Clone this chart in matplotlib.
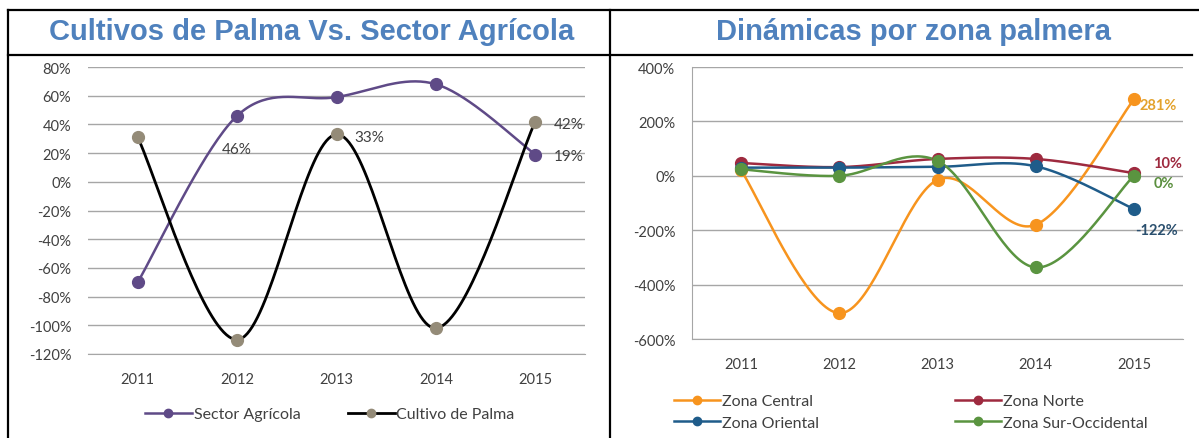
import numpy as np
import matplotlib
matplotlib.use("Agg")
import matplotlib.pyplot as plt
from matplotlib.lines import Line2D
from matplotlib.ticker import FuncFormatter, MultipleLocator

# ---------------- data ----------------
years = ["2011", "2012", "2013", "2014", "2015"]

sector_agricola = [-70, 46, 59, 68, 19]
cultivo_palma = [31, -110, 33, -102, 42]

zona_central = [20, -505, -15, -180, 281]
zona_norte = [47, 32, 62, 62, 10]
zona_oriental = [30, 30, 33, 35, -122]
zona_sur_occ = [24, 0, 55, -337, 0]

left_title = "Cultivos de Palma Vs. Sector Agrícola"
right_title = "Dinámicas por zona palmera"

# ---------------- style ----------------
FONT = "Lato"
TXT = "#404040"
GRID = "#A6A6A6"
TITLE_C = "#4F81BD"
C_SECTOR = "#5F4A87"
C_PALMA_LINE = "#000000"
C_PALMA_MK = "#948B78"
C_CENTRAL = "#F7941E"
C_NORTE = "#9E2A3F"
C_ORIENTAL = "#1F5C8A"
C_SUR = "#5A9440"

W, H = 1199, 439
fig = plt.figure(figsize=(W / 100, H / 100), dpi=100)


def px_axes(left, top, right, bottom):
    return fig.add_axes([left / W, 1 - bottom / H, (right - left) / W, (bottom - top) / H])


def smooth(xs, ys, n=40):
    xs = np.asarray(xs, float)
    ys = np.asarray(ys, float)
    P = np.column_stack([xs, ys])
    out = [P[0]]
    for i in range(len(P) - 1):
        p0 = P[i - 1] if i > 0 else P[i]
        p1 = P[i]
        p2 = P[i + 1]
        p3 = P[i + 2] if i + 2 < len(P) else P[i + 1]
        c1 = p1 + (p2 - p0) / 6.0
        c2 = p2 - (p3 - p1) / 6.0
        t = np.linspace(0, 1, n)[1:, None]
        seg = ((1 - t) ** 3) * p1 + 3 * ((1 - t) ** 2) * t * c1 + 3 * (1 - t) * t ** 2 * c2 + t ** 3 * p2
        out.extend(seg)
    out = np.array(out)
    return out[:, 0], out[:, 1]


def style_axes(ax, lo, hi, step, left_spine):
    ax.set_ylim(lo, hi)
    ax.set_xlim(-0.5, len(years) - 0.5)
    ax.yaxis.set_major_locator(MultipleLocator(step))
    ax.yaxis.set_major_formatter(FuncFormatter(lambda v, p: f"{int(round(v))}%"))
    ax.set_xticks(range(len(years)))
    ax.set_xticklabels(years)
    ax.grid(axis="y", color=GRID, linewidth=1.0)
    ax.set_axisbelow(True)
    for s in ["top", "right"]:
        ax.spines[s].set_visible(False)
    ax.spines["left"].set_visible(left_spine)
    ax.spines["left"].set_color(GRID)
    ax.spines["bottom"].set_color(GRID)
    ax.spines["bottom"].set_zorder(0.5)
    ax.tick_params(axis="both", length=0, labelsize=10.5, colors=TXT)
    ax.tick_params(axis="y", pad=12)
    ax.tick_params(axis="x", pad=13)
    for lab in ax.get_xticklabels() + ax.get_yticklabels():
        lab.set_fontfamily(FONT)


x = np.arange(len(years))

# ---------------- left chart ----------------
axL = px_axes(88, 68, 585, 355)
style_axes(axL, -120, 80, 20, False)

for vals, lc, mc, lw in [(sector_agricola, C_SECTOR, C_SECTOR, 1.8),
                         (cultivo_palma, C_PALMA_LINE, C_PALMA_MK, 2.0)]:
    sx, sy = smooth(x, vals)
    axL.plot(sx, sy, color=lc, lw=lw, zorder=3, solid_capstyle="round")
    axL.plot(x, vals, ls="none", marker="o", ms=8.5, color=mc, zorder=4)

lab_kw = dict(textcoords="offset points", fontsize=11, color=TXT, family=FONT, va="center")
axL.annotate(f"{sector_agricola[1]}%", (1, sector_agricola[1]), xytext=(0, -24), ha="center", **lab_kw)
axL.annotate(f"{cultivo_palma[2]}%", (2, cultivo_palma[2]), xytext=(13, -2), ha="left", **lab_kw)
axL.annotate(f"{cultivo_palma[4]}%", (4, cultivo_palma[4]), xytext=(13, -2), ha="left", **lab_kw)
axL.annotate(f"{sector_agricola[4]}%", (4, sector_agricola[4]), xytext=(13, -1), ha="left", **lab_kw)

hL = [Line2D([], [], color=C_SECTOR, lw=1.8, marker="o", ms=6, label="Sector Agrícola"),
      Line2D([], [], color=C_PALMA_LINE, lw=2.0, marker="o", ms=6, mfc=C_PALMA_MK,
             mec=C_PALMA_MK, label="Cultivo de Palma")]
legL = fig.legend(handles=hL, loc="center", bbox_to_anchor=(330 / W, 1 - 415 / H), ncol=2,
                  frameon=False, handlelength=2.9, handletextpad=0.12, columnspacing=3.0,
                  prop={"family": FONT, "size": 11.5})
for t in legL.get_texts():
    t.set_color(TXT)

# ---------------- right chart ----------------
axR = px_axes(692, 68, 1183, 340)
style_axes(axR, -600, 400, 200, True)

zones = [(zona_central, C_CENTRAL, "Zona Central"),
         (zona_norte, C_NORTE, "Zona Norte"),
         (zona_oriental, C_ORIENTAL, "Zona Oriental"),
         (zona_sur_occ, C_SUR, "Zona Sur-Occidental")]
for i, (vals, c, name) in enumerate(zones):
    sx, sy = smooth(x, vals)
    axR.plot(sx, sy, color=c, lw=1.8, zorder=3 + i * 0.1)
    axR.plot(x, vals, ls="none", marker="o", ms=8.5, color=c, zorder=4 + i * 0.1)

bkw = dict(textcoords="offset points", fontsize=10.5, family=FONT, fontweight="bold", va="center")
axR.annotate(f"{zona_central[4]}%", (4, zona_central[4]), xytext=(4, -4), ha="left",
             color="#E3A22C", **bkw)
axR.annotate(f"{zona_norte[4]}%", (4, zona_norte[4]), xytext=(14, 7), ha="left",
             color="#9E2A3F", **bkw)
axR.annotate(f"{zona_sur_occ[4]}%", (4, zona_sur_occ[4]), xytext=(14, -5), ha="left",
             color="#5A8F3E", **bkw)
axR.annotate(f"{zona_oriental[4]}%", (4, zona_oriental[4]), xytext=(16, -15), ha="center",
             color="#2A4F6E", **bkw)

# legend fills column-wise: order so rows read Central/Norte, Oriental/Sur-Occidental
leg_order = [0, 2, 1, 3]
hR = [Line2D([], [], color=zones[k][1], lw=1.8, marker="o", ms=6, label=zones[k][2])
      for k in leg_order]
legR = fig.legend(handles=hR, loc="center", bbox_to_anchor=(911 / W, 1 - 413 / H), ncol=2,
                  frameon=False, handlelength=2.9, handletextpad=0.12, columnspacing=8.5,
                  labelspacing=0.45, prop={"family": FONT, "size": 11.5})
for t in legR.get_texts():
    t.set_color(TXT)

# ---------------- frame & titles ----------------
def fline(x0, y0, x1, y1, lw=1.6):
    fig.add_artist(Line2D([x0 / W, x1 / W], [1 - y0 / H, 1 - y1 / H], color="black", lw=lw))

fline(8, 11, W, 11)
fline(8, 56, 1192, 56)
fline(8, 11, 8, H)
fline(610, 11, 610, H)

fig.text(312 / W, 1 - 32 / H, left_title, ha="center", va="center", fontsize=21,
         fontweight="bold", family="Liberation Sans", color=TITLE_C)
fig.text(913 / W, 1 - 32 / H, right_title, ha="center", va="center", fontsize=21,
         fontweight="bold", family="Liberation Sans", color=TITLE_C)

fig.savefig("out.png", dpi=100)
